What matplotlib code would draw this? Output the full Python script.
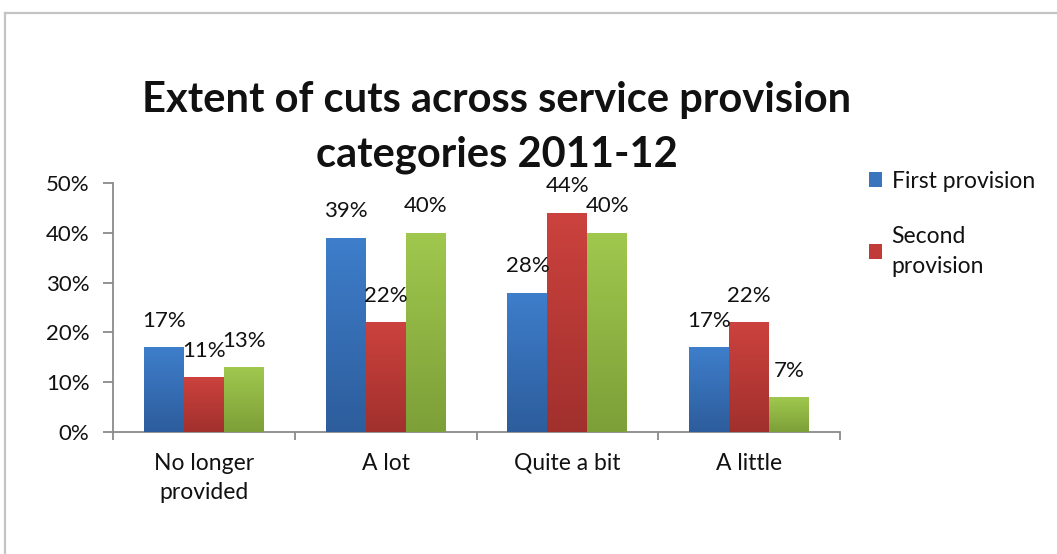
import numpy as np
import matplotlib
matplotlib.use("Agg")
import matplotlib.pyplot as plt
from matplotlib.colors import LinearSegmentedColormap
from matplotlib.lines import Line2D
from matplotlib.patches import Patch

plt.rcParams['font.family'] = ['Lato', 'DejaVu Sans']

categories = ["No longer\nprovided", "A lot", "Quite a bit", "A little"]
first_provision = [17, 39, 28, 17]
second_provision = [11, 22, 44, 22]
third_provision = [13, 40, 40, 7]
y_ticks = [0, 10, 20, 30, 40, 50]

series = [
    (first_provision, ("#3e7ecb", "#2d5d9c")),
    (second_provision, ("#cc423e", "#a1302d")),
    (third_provision, ("#a0c84e", "#7d9f38")),
]

fig = plt.figure(figsize=(10.57, 5.54), dpi=100)
ax = fig.add_axes([113 / 1057, 1 - 432 / 554, (840 - 113) / 1057, (432 - 183) / 554])

x = np.arange(len(categories))
width = 0.22
offsets = [-width, 0, width]

grad = np.linspace(1, 0, 256).reshape(-1, 1)
for (vals, (top, bottom)), off in zip(series, offsets):
    cmap = LinearSegmentedColormap.from_list("g", [bottom, top])
    bars = ax.bar(x + off, vals, width, color=top, linewidth=0, zorder=2)
    for b, v in zip(bars, vals):
        x0 = b.get_x()
        im = ax.imshow(grad, cmap=cmap, aspect='auto', zorder=3,
                       extent=(x0, x0 + width, 0, v), interpolation='bicubic')
        im.set_clip_path(b)
        ax.annotate(f"{v}%", (x0 + width / 2, v), xytext=(0, 19),
                    textcoords='offset points', ha='center', va='center',
                    fontsize=16, color='#111111', zorder=5)
        b.set_visible(False)

ax.set_xlim(-0.5, len(categories) - 0.5)
ax.set_ylim(0, 50)
ax.set_yticks(y_ticks)
ax.set_yticklabels([f"{t}%" for t in y_ticks], fontsize=16, color='#111111')
ax.set_xticks(x)
ax.set_xticklabels(categories, fontsize=16.5, color='#111111', linespacing=1.5)
ax.set_xticks(np.arange(len(categories) + 1) - 0.5, minor=True)
ax.tick_params(axis='x', which='major', length=0, pad=15)
ax.tick_params(axis='x', which='minor', length=6, width=1.3, color='#8a8a8a', direction='out')
ax.tick_params(axis='y', length=7, width=1.3, color='#8a8a8a', direction='out', pad=10)
for s in ('top', 'right'):
    ax.spines[s].set_visible(False)
for s in ('left', 'bottom'):
    ax.spines[s].set_color('#8a8a8a')
    ax.spines[s].set_linewidth(1.3)

fig.text(497 / 1057, 1 - 100 / 554, "Extent of cuts across service provision",
         ha='center', va='center', fontsize=30, fontweight='bold', color='#111111')
fig.text(497 / 1057, 1 - 155 / 554, "categories 2011-12",
         ha='center', va='center', fontsize=30, fontweight='bold', color='#111111')

handles = [Patch(facecolor="#3a74bd"), Patch(facecolor="#c13b38")]
leg = fig.legend(handles, ["First provision", "Second\nprovision"],
                 loc='upper left', bbox_to_anchor=(848 / 1057, 1 - 150 / 554),
                 frameon=False, fontsize=16.5, handlelength=0.6, handleheight=0.6,
                 handletextpad=0.4, labelspacing=1.5)
for t in leg.get_texts():
    t.set_color('#111111')
    t.set_linespacing(1.5)

# chart area border
fig.add_artist(Line2D([5 / 1057, 5 / 1057], [0, 1 - 13 / 554], transform=fig.transFigure,
                      color='#c4c4c4', lw=1.6))
fig.add_artist(Line2D([5 / 1057, 1], [1 - 13 / 554, 1 - 13 / 554], transform=fig.transFigure,
                      color='#c4c4c4', lw=1.6))

fig.savefig("out.png", dpi=100)
